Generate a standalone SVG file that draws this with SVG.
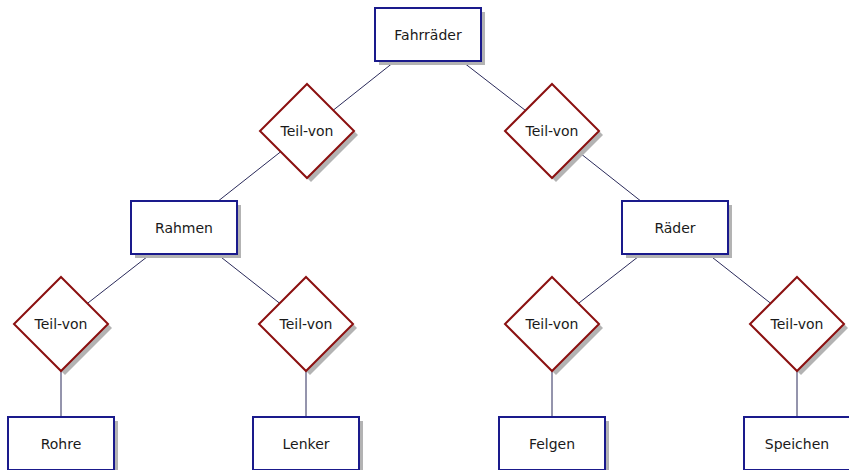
<svg xmlns="http://www.w3.org/2000/svg" width="849" height="470" viewBox="0 0 849 470">
  <style>
    .ent { fill: #ffffff; stroke: #1a1a8c; stroke-width: 2; }
    .rel { fill: #ffffff; stroke: #8b1010; stroke-width: 2; }
    .shadow { fill: #b3b3b3; }
    .edge { stroke: #2a2a5a; stroke-width: 1; fill: none; }
    text { font-family: "DejaVu Sans", "Liberation Sans", sans-serif; font-size: 14px; fill: #1a1a1a; text-anchor: middle; dominant-baseline: central; }
  </style>
  <defs>
    <g id="box">
      <rect class="shadow" x="-49" y="-23" width="106" height="53"/>
      <rect class="ent" x="-53" y="-27" width="106" height="53"/>
    </g>
    <g id="diamond">
      <polygon class="shadow" points="4,-43 51,4 4,51 -43,4"/>
      <polygon class="rel" points="0,-47 47,0 0,47 -47,0"/>
    </g>
  </defs>

  <!-- connectors -->
  <g id="edges">
    <line class="edge" x1="428" y1="35" x2="307" y2="131"/>
    <line class="edge" x1="428" y1="35" x2="552" y2="131"/>
    <line class="edge" x1="307" y1="131" x2="184" y2="228"/>
    <line class="edge" x1="552" y1="131" x2="675" y2="228"/>
    <line class="edge" x1="184" y1="228" x2="61" y2="324"/>
    <line class="edge" x1="184" y1="228" x2="306" y2="324"/>
    <line class="edge" x1="675" y1="228" x2="552" y2="324"/>
    <line class="edge" x1="675" y1="228" x2="797" y2="324"/>
    <line class="edge" x1="61" y1="324" x2="61" y2="444"/>
    <line class="edge" x1="306" y1="324" x2="306" y2="444"/>
    <line class="edge" x1="552" y1="324" x2="552" y2="444"/>
    <line class="edge" x1="797" y1="324" x2="797" y2="444"/>
  </g>

  <!-- entities and relations -->
  <g id="fahrraeder" transform="translate(428,35)"><use href="#box"/><text>Fahrräder</text></g>
  <g id="teil-von-1" transform="translate(307,131)"><use href="#diamond"/><text>Teil-von</text></g>
  <g id="teil-von-2" transform="translate(552,131)"><use href="#diamond"/><text>Teil-von</text></g>
  <g id="rahmen" transform="translate(184,228)"><use href="#box"/><text>Rahmen</text></g>
  <g id="raeder" transform="translate(675,228)"><use href="#box"/><text>Räder</text></g>
  <g id="teil-von-3" transform="translate(61,324)"><use href="#diamond"/><text>Teil-von</text></g>
  <g id="teil-von-4" transform="translate(306,324)"><use href="#diamond"/><text>Teil-von</text></g>
  <g id="teil-von-5" transform="translate(552,324)"><use href="#diamond"/><text>Teil-von</text></g>
  <g id="teil-von-6" transform="translate(797,324)"><use href="#diamond"/><text>Teil-von</text></g>
  <g id="rohre" transform="translate(61,444)"><use href="#box"/><text>Rohre</text></g>
  <g id="lenker" transform="translate(306,444)"><use href="#box"/><text>Lenker</text></g>
  <g id="felgen" transform="translate(552,444)"><use href="#box"/><text>Felgen</text></g>
  <g id="speichen" transform="translate(797,444)"><use href="#box"/><text>Speichen</text></g>
</svg>
